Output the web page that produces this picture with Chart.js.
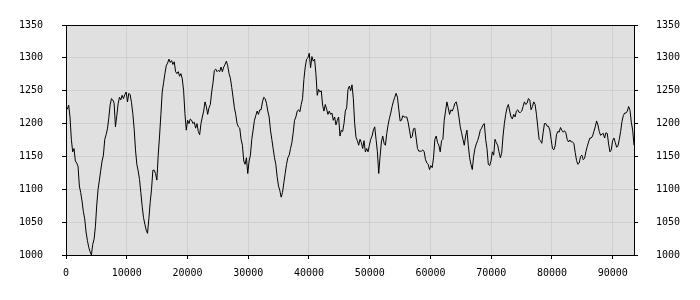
<!DOCTYPE html>
<html lang="en">
<head>
<meta charset="UTF-8">
<title>Series</title>
<style>
  html, body { margin: 0; padding: 0; background: #ffffff; }
  #wrap { width: 700px; height: 300px; }
</style>
</head>
<body>
<div id="wrap"><canvas id="chart" width="700" height="300"></canvas></div>
<script src="https://cdn.jsdelivr.net/npm/chart.js@4"></script>
<script>
  // samples taken at a regular spacing along x
  var xStart = 0;
  var xStep = 220;
  var values = [
    1226, 1222, 1228, 1210, 1176, 1157, 1162, 1143, 1140, 1135, 1105, 1095, 1082, 1066, 1055, 1035, 1022, 1012, 1005, 1000, 1016, 1024, 1043, 1076, 1100,
    1114, 1129, 1143, 1152, 1176, 1183, 1192, 1208, 1228, 1238, 1236, 1231, 1195, 1212, 1230, 1240, 1236, 1243, 1238, 1244, 1248, 1233, 1246, 1244, 1232,
    1215, 1192, 1160, 1138, 1128, 1115, 1095, 1074, 1057, 1047, 1038, 1033, 1055, 1080, 1100, 1129, 1129, 1124, 1114, 1152, 1181, 1214, 1248, 1262, 1276,
    1288, 1292, 1298, 1293, 1296, 1290, 1294, 1279, 1276, 1279, 1272, 1276, 1268, 1250, 1215, 1190, 1205, 1200, 1207, 1205, 1200, 1202, 1193, 1200, 1188,
    1183, 1200, 1210, 1219, 1233, 1226, 1214, 1224, 1229, 1248, 1262, 1281, 1283, 1279, 1281, 1279, 1286, 1279, 1286, 1290, 1295, 1288, 1276, 1269, 1255,
    1240, 1224, 1214, 1200, 1195, 1193, 1176, 1167, 1143, 1138, 1148, 1124, 1143, 1152, 1176, 1190, 1205, 1212, 1219, 1214, 1221, 1221, 1233, 1240, 1238,
    1231, 1219, 1210, 1190, 1176, 1162, 1148, 1138, 1119, 1105, 1098, 1088, 1095, 1110, 1124, 1138, 1148, 1152, 1162, 1171, 1186, 1205, 1210, 1219, 1221,
    1218, 1229, 1238, 1267, 1286, 1298, 1300, 1307, 1285, 1302, 1295, 1298, 1276, 1243, 1252, 1248, 1250, 1228, 1219, 1229, 1222, 1214, 1219, 1214, 1216,
    1205, 1210, 1198, 1205, 1210, 1181, 1190, 1188, 1200, 1219, 1224, 1252, 1257, 1250, 1259, 1238, 1200, 1179, 1174, 1167, 1176, 1171, 1162, 1174, 1157,
    1162, 1157, 1167, 1176, 1181, 1190, 1195, 1176, 1157, 1124, 1150, 1172, 1181, 1170, 1167, 1185, 1198, 1208, 1216, 1226, 1234, 1240, 1246, 1240, 1222,
    1204, 1205, 1212, 1210, 1210, 1210, 1202, 1190, 1178, 1180, 1192, 1193, 1178, 1162, 1158, 1158, 1158, 1160, 1157, 1145, 1140, 1138, 1130, 1136, 1133,
    1148, 1176, 1181, 1171, 1167, 1157, 1174, 1176, 1205, 1219, 1233, 1224, 1214, 1221, 1219, 1224, 1231, 1233, 1224, 1210, 1195, 1186, 1176, 1167, 1181,
    1190, 1167, 1148, 1138, 1130, 1150, 1162, 1169, 1174, 1181, 1190, 1193, 1198, 1200, 1176, 1162, 1138, 1136, 1143, 1157, 1152, 1176, 1171, 1167, 1157,
    1148, 1155, 1181, 1200, 1214, 1224, 1229, 1219, 1210, 1207, 1214, 1210, 1219, 1221, 1217, 1217, 1219, 1226, 1233, 1229, 1231, 1238, 1236, 1221, 1226,
    1233, 1229, 1214, 1195, 1176, 1174, 1170, 1186, 1200, 1200, 1196, 1196, 1190, 1176, 1162, 1160, 1166, 1183, 1188, 1187, 1194, 1190, 1187, 1189, 1186,
    1176, 1172, 1175, 1172, 1172, 1170, 1156, 1144, 1138, 1140, 1150, 1152, 1145, 1147, 1157, 1165, 1172, 1178, 1178, 1181, 1188, 1195, 1204, 1198, 1188,
    1182, 1184, 1185, 1178, 1186, 1185, 1169, 1157, 1160, 1174, 1178, 1171, 1164, 1166, 1176, 1188, 1203, 1212, 1216, 1216, 1219, 1226, 1220, 1202, 1190,
    1167
  ];
  var xTicks = [0, 10000, 20000, 30000, 40000, 50000, 60000, 70000, 80000, 90000];
  var yMin = 1000, yMax = 1350, yStep = 50;

  var points = values.map(function (v, i) {
    return { x: xStart + i * xStep, y: v };
  });
  var xMax = points[points.length - 1].x;

  var tickFont = { family: 'DejaVu Sans Mono', size: 10 };
  var plain = function (v) { return String(v); };

  // grey plot area and the black frame round it
  var plotFrame = {
    id: 'plotFrame',
    beforeDraw: function (chart) {
      var a = chart.chartArea, ctx = chart.ctx;
      ctx.save();
      ctx.fillStyle = '#e0e0e0';
      ctx.fillRect(a.left, a.top, a.right - a.left, a.bottom - a.top);
      ctx.restore();
    },
    afterDraw: function (chart) {
      var a = chart.chartArea, ctx = chart.ctx;
      var l = Math.round(a.left) + 0.5, t = Math.round(a.top) + 0.5;
      var r = Math.round(a.right) + 0.5, b = Math.round(a.bottom) + 0.5;
      ctx.save();
      ctx.strokeStyle = '#000';
      ctx.lineWidth = 1;
      ctx.strokeRect(l, t, r - l, b - t);
      ctx.restore();
    }
  };

  new Chart(document.getElementById('chart'), {
    type: 'line',
    data: {
      datasets: [{
        data: points,
        borderColor: '#000',
        borderWidth: 1,
        pointRadius: 0,
        tension: 0,
        fill: false
      }]
    },
    options: {
      responsive: false,
      animation: false,
      events: [],
      layout: { padding: { top: 10, left: 0, right: 0, bottom: 0 } },
      plugins: { legend: { display: false }, tooltip: { enabled: false } },
      scales: {
        x: {
          type: 'linear',
          min: 0,
          max: xMax,
          afterBuildTicks: function (s) {
            s.ticks = xTicks.map(function (v) { return { value: v }; });
          },
          afterFit: function (s) { s.height = 45; },
          ticks: { autoSkip: false, maxRotation: 0, color: '#000', font: tickFont, padding: 8, callback: plain },
          grid: { color: '#d0d0d0', tickColor: '#000', tickLength: 4 },
          border: { display: false }
        },
        y: {
          position: 'left',
          min: yMin,
          max: yMax,
          afterFit: function (s) { s.width = 66; },
          ticks: { stepSize: yStep, color: '#000', font: tickFont, padding: 19, callback: plain },
          grid: { color: '#d0d0d0', tickColor: '#000', tickLength: 4 },
          border: { display: false }
        },
        y2: {
          position: 'right',
          min: yMin,
          max: yMax,
          afterFit: function (s) { s.width = 66; },
          ticks: { stepSize: yStep, color: '#000', font: tickFont, padding: 18, callback: plain },
          grid: { drawOnChartArea: false, tickColor: '#000', tickLength: 4 },
          border: { display: false }
        }
      }
    },
    plugins: [plotFrame]
  });
</script>
</body>
</html>
